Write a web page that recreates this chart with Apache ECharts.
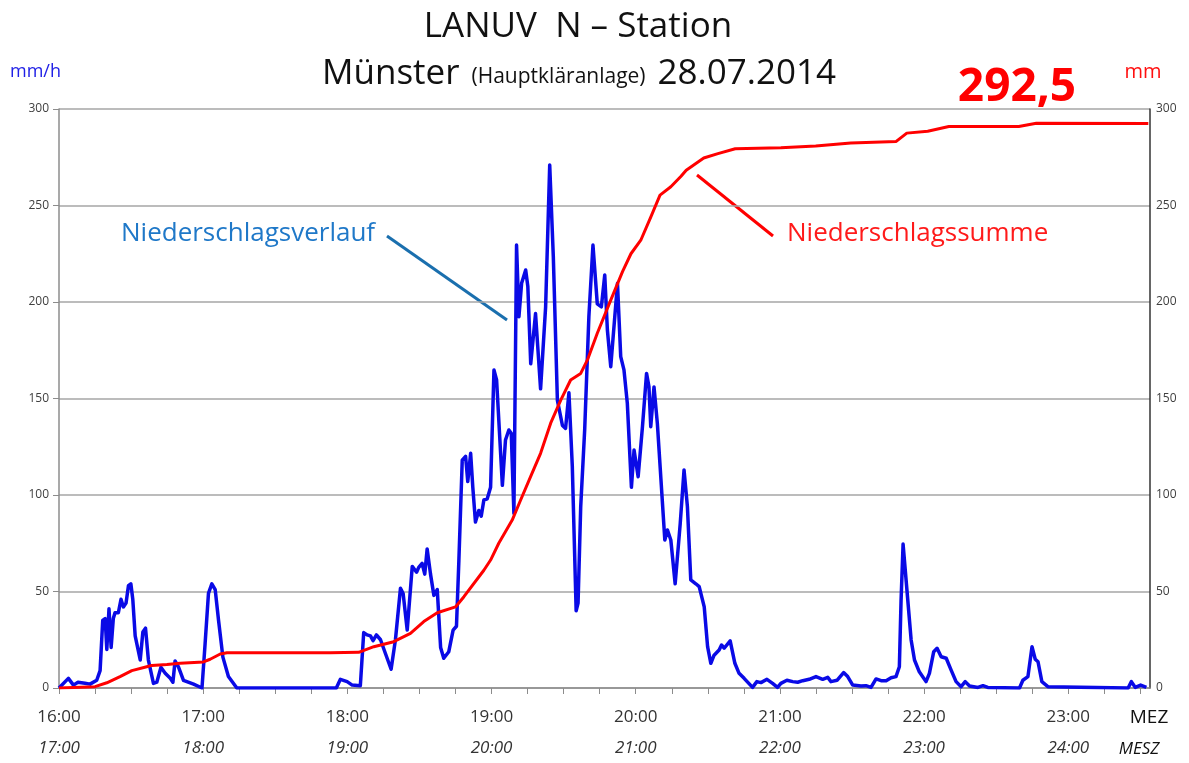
<!DOCTYPE html>
<html>
<head>
<meta charset="utf-8">
<script src="https://cdn.jsdelivr.net/npm/echarts@6/dist/echarts.min.js"></script>
<style>
  html, body { margin: 0; padding: 0; background: #fff; }
  #chart { width: 1189px; height: 763px; }
</style>
</head>
<body>
<div id="chart"></div>
<script>
// minutes after 16:00 MEZ
var rateMinutes = [0, 3.9, 6, 7.9, 10.8, 12.9, 15.7, 17.1, 18.2, 19.2, 19.9, 20.8, 21.7, 22.6, 23.3, 24.7, 25.8, 26.8, 27.9, 28.9, 29.9,
    30.7, 31.7, 33.8, 34.9, 36, 37.2, 39.3, 40.7, 42.4, 44.2, 46.3, 47.4, 48.3, 49.7, 51.8, 56, 59.5, 60.8, 62.2, 63.6, 65, 66.4,
    68.2, 70.5, 74, 115.4, 117.1, 117.8, 119.9, 122, 125.4, 126.8, 128.2, 129.6, 130.7, 132.1, 133.8, 135.8, 138.2, 140, 142.1,
    143.2, 144.9, 147, 148.8, 149.7, 151.1, 152.2, 153.2, 154.6, 156, 157.4, 158.8, 160.1, 162.2, 164, 165.4, 166.4, 167.8, 169.2,
    170.1, 171.3, 172.2, 173.3, 174.7, 175.7, 176.8, 178.2, 179.6, 181, 182.1, 184.5, 185.8, 187.2, 188.2, 189.3, 190.4, 191.4,
    192.5, 194.2, 195.1, 196.3, 198.3, 200.4, 202.5, 204.2, 205.7, 207.4, 209.5, 210.8, 212.2, 213.6, 215.2, 216, 217.1, 218.75,
    220.5, 222.2, 224, 225.7, 227.1, 228.2, 229.6, 230.3, 232.4, 233.75, 235.1, 236.5, 238.2, 239.3, 241, 242.8, 244.5, 245.5,
    246.25, 247.6, 249, 252.1, 253.2, 254.6, 256.4, 258.5, 260.1, 261.5, 262.9, 265, 266.4, 268.5, 269.9, 271.25, 272.6, 274.7,
    275.7, 276.8, 279.3, 281.25, 283, 285.1, 288.6, 290.4, 292.1, 294.6, 296.95, 299, 300.4, 302.9, 305.3, 307.4, 309.5, 312.2,
    315, 317.8, 319.9, 321.25, 323.75, 326.5, 328.2, 330.3, 333.75, 335.8, 337.9, 340, 342.1, 344.2, 346.25, 348.3, 349.7, 350.4,
    351.25, 353.2, 354.6, 356, 358, 360.8, 362.2, 364, 365.4, 367.1, 369.2, 371.25, 373.3, 375.4, 377.1, 378.9, 382.4, 384.5,
    386.5, 399.7, 401.1, 403.2, 404.9, 406.25, 407.4, 409, 411.5, 444.9, 446.25, 447.9, 450.1, 452.5];
var rateValues = [0, 5, 1.5, 3, 2.5, 2, 4, 9, 35, 36, 20, 41, 21, 36, 39, 39, 46, 42, 44, 53, 54,
    46, 27, 14.5, 29, 31, 14.5, 2.4, 3, 10.7, 7.6, 5, 3, 14, 11, 4, 2, 0, 23, 49, 54, 51, 35,
    16, 6, 0, 0, 4.5, 4.5, 3.3, 1.5, 1.2, 28.7, 27.5, 27, 24.5, 27.5, 25, 18, 9.7, 25, 51.7,
    49, 30, 63, 60, 62.5, 64.6, 59, 72, 59, 48, 51, 21, 15.4, 18.8, 30, 32, 66, 118, 120,
    107, 121.6, 104, 86, 92, 89, 97.4, 98, 104, 164.8, 159.6, 105, 128.5, 133.7, 132, 90.5, 229.5, 192.4,
    209.7, 216.6, 208, 168, 194, 155, 197.5, 271, 223.5, 149, 136, 134.5, 153, 115, 40, 44, 94, 133.7,
    192.4, 229.5, 199, 197.5, 214, 185.5, 166.5, 166.5, 209.7, 171.7, 164.8, 147.5, 104, 123.3, 109.5, 135.4, 163, 156,
    135.4, 156, 137, 76.7, 81.9, 76.7, 54, 85, 113, 94, 56, 54, 52.5, 42, 21.4, 12.8, 17, 19.7,
    22.3, 20.6, 24.4, 12.8, 7.6, 5, 0.3, 3.3, 2.8, 4.5, 2.4, 0.3, 2.4, 4, 3.3, 3, 3.8, 4.5,
    5.9, 4.5, 5.5, 3.3, 4, 8, 5.9, 1.5, 1, 1.2, 0.3, 4.7, 3.8, 3.8, 5.3, 5.9, 11, 45,
    74.6, 45.6, 24.9, 14.5, 8.4, 3.3, 7.6, 18.8, 20.6, 16.2, 15.4, 9.3, 3.3, 0.7, 3.3, 1, 0.3, 1.2,
    0.3, 0, 4, 5.9, 21.4, 14.9, 13.6, 3.3, 0.7, 0, 3.3, 0.3, 1.5, 0.3];

var sumMinutes = [0, 15, 19.9, 25.4, 30.3, 36.5, 38.6, 44.9, 50.4, 60.1, 62.9, 67.1, 69.9, 112.9, 124.7, 131, 139.3, 146.25,
    151.8, 157.4, 165, 168.5, 176.8, 179.6, 183, 188.6, 192.1, 196.25, 200.4, 204.6, 208.75, 212.9, 217.1, 219.9, 224, 229.6,
    234.5, 238, 242.1, 246.25, 250.1, 254.6, 258.75, 261, 268.3, 274.2, 281.4, 300.4, 314.9, 329.5, 348.4, 352.8, 361.5, 370.3,
    399.4, 406.7, 453.3];
var sumValues = [0, 0.7, 2.7, 5.9, 9, 11, 11.7, 12.2, 12.8, 13.5, 14.9, 17.6, 18.3, 18.3, 18.5, 21.4, 24, 28.3,
    34.4, 39, 42, 47.3, 61, 66.3, 75, 87, 97.4, 109.5, 121.6, 137.2, 149, 159.6, 163, 170, 183.8, 201,
    215.7, 225, 232, 244, 255.4, 259.7, 265, 268.3, 274.6, 276.9, 279.4, 279.9, 280.8, 282.4, 283.2, 287.5, 288.5, 290.9,
    290.9, 292.6, 292.5];

var mezLabels = ['16:00', '17:00', '18:00', '19:00', '20:00', '21:00', '22:00', '23:00'];
var meszLabels = ['17:00', '18:00', '19:00', '20:00', '21:00', '22:00', '23:00', '24:00'];

var rateData = rateMinutes.map(function (t, i) { return [t, rateValues[i]]; });
var sumData = sumMinutes.map(function (t, i) { return [t, sumValues[i]]; });

var font = '"Open Sans", sans-serif';
var chart = echarts.init(document.getElementById('chart'));

var option = {
    animation: false,
    backgroundColor: '#fff',
    grid: { left: 59, right: 39, top: 109, bottom: 75 },
    xAxis: {
        type: 'value',
        min: 0,
        max: 454,
        interval: 15,
        axisLine: { lineStyle: { color: '#8c8c8c', width: 1.5 } },
        axisTick: { length: 6, lineStyle: { color: '#8c8c8c' } },
        splitLine: { show: false },
        axisLabel: {
            showMaxLabel: false,
            margin: 14,
            formatter: function (v) {
                if (v % 60 !== 0) return '';
                var i = v / 60;
                return '{a|' + mezLabels[i] + '}\n{b|' + meszLabels[i] + '}';
            },
            rich: {
                a: { fontFamily: font, fontSize: 17, color: '#333', lineHeight: 31 },
                b: { fontFamily: font, fontSize: 17, color: '#333', fontStyle: 'italic', lineHeight: 31 }
            }
        }
    },
    yAxis: [
        {
            type: 'value', min: 0, max: 300, interval: 50,
            axisLine: { show: true, lineStyle: { color: '#8c8c8c', width: 1.5 } },
            axisTick: { show: true, length: 6, lineStyle: { color: '#8c8c8c' } },
            axisLabel: { fontFamily: font, fontSize: 12, color: '#404040', margin: 10 },
            splitLine: { lineStyle: { color: '#a6a6a6', width: 1.5 } }
        },
        {
            type: 'value', min: 0, max: 300, interval: 50, position: 'right',
            axisLine: { show: true, lineStyle: { color: '#333', width: 1.5 } },
            axisTick: { show: false },
            axisLabel: { fontFamily: font, fontSize: 12, color: '#404040', margin: 6 },
            splitLine: { show: false }
        }
    ],
    series: [
        {
            name: 'Niederschlagsverlauf',
            type: 'line',
            yAxisIndex: 0,
            data: rateData,
            showSymbol: false,
            lineStyle: { color: '#0a0ae6', width: 3.5, join: 'round' }
        },
        {
            name: 'Niederschlagssumme',
            type: 'line',
            yAxisIndex: 1,
            data: sumData,
            showSymbol: false,
            lineStyle: { color: '#ff0000', width: 3, join: 'round' }
        }
    ],
    graphic: [
        { type: 'text', x: 578, y: 27, style: { text: 'LANUV  N \u2013 Station', font: '35px ' + font, fill: '#111', align: 'center', verticalAlign: 'middle' } },
        {
            type: 'text', x: 579, y: 74,
            style: {
                text: '{m|M\u00fcnster}{s|(Hauptkl\u00e4ranlage)}{m|28.07.2014}',
                align: 'center', verticalAlign: 'middle',
                rich: {
                    m: { fontFamily: font, fontSize: 35, fill: '#111' },
                    s: { fontFamily: font, fontSize: 21, fill: '#111', padding: [6, 12, 0, 12] }
                }
            }
        },
        { type: 'text', x: 10, y: 72, style: { text: 'mm/h', font: '18px ' + font, fill: '#2020e6', verticalAlign: 'middle' } },
        { type: 'text', x: 1143, y: 72, style: { text: 'mm', font: '20px ' + font, fill: '#ff1010', align: 'center', verticalAlign: 'middle' } },
        { type: 'text', x: 1017, y: 88, style: { text: '292,5', font: 'bold 46px ' + font, fill: '#ff0000', align: 'center', verticalAlign: 'middle' } },
        { type: 'text', x: 121, y: 234, style: { text: 'Niederschlagsverlauf', font: '26px ' + font, fill: '#1f78c8', verticalAlign: 'middle' } },
        { type: 'line', shape: { x1: 387, y1: 236, x2: 507, y2: 320 }, style: { stroke: '#1a6fae', lineWidth: 3 } },
        { type: 'text', x: 787, y: 234, style: { text: 'Niederschlagssumme', font: '26px ' + font, fill: '#ff1a1a', verticalAlign: 'middle' } },
        { type: 'line', shape: { x1: 697, y1: 175, x2: 773, y2: 236 }, style: { stroke: '#ff0000', lineWidth: 3 } },
        { type: 'text', x: 1149, y: 718, style: { text: 'MEZ', font: '19px ' + font, fill: '#111', align: 'center', verticalAlign: 'middle' } },
        { type: 'text', x: 1139, y: 749, style: { text: 'MESZ', font: 'italic 17px ' + font, fill: '#111', align: 'center', verticalAlign: 'middle' } }
    ]
};

chart.setOption(option);
</script>
</body>
</html>
